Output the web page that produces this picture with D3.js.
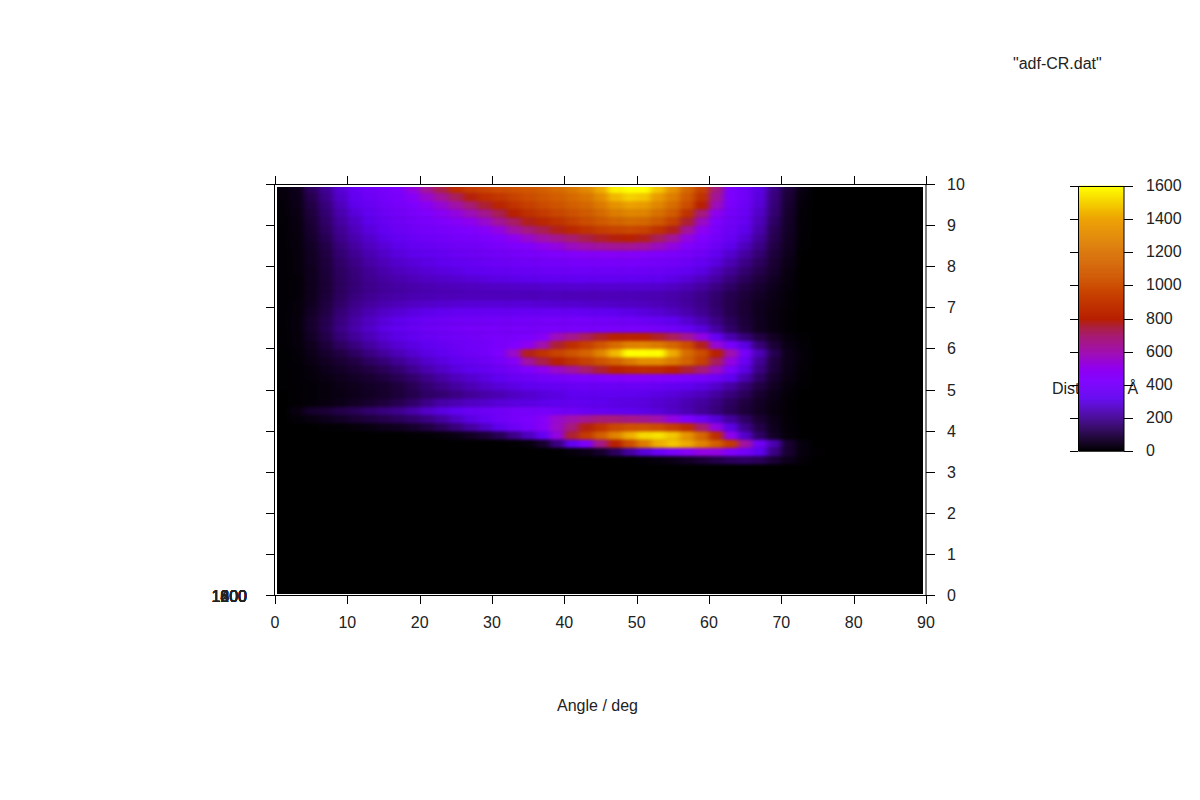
<!DOCTYPE html>
<html><head><meta charset="utf-8">
<style>html,body{margin:0;padding:0;background:#fff}svg{display:block}text{font-family:"Liberation Sans",Arial,sans-serif;font-size:16px;fill:#222}</style>
<script src="https://cdn.jsdelivr.net/npm/d3@7"></script></head><body>
<svg id="c" width="1200" height="800"></svg>
<script>
const angleCentres=[1,3,5,7,9,11,13,15,17,19,21,23,25,27,29,31,33,35,37,39,41,43,45,47,49,51,53,55,57,59,61,63,65,67,69,71,73,75];
const distCentres=[3.3,3.5,3.7,3.9,4.1,4.3,4.5,4.7,4.9,5.1,5.3,5.5,5.7,5.9,6.1,6.3,6.5,6.7,6.9,7.1,7.3,7.5,7.7,7.9,8.1,8.3,8.5,8.7,8.9,9.1,9.3,9.5,9.7,9.9];
const density=[
[0,0,0,0,0,0,0,0,0,0,0,0,0,0,0,0,0,0,0,0,0,0,0,0,0,10,20,35,60,85,110,135,145,130,85,40,12,0],
[0,0,0,0,0,0,0,0,0,0,0,0,0,0,0,0,0,0,0,0,15,35,70,135,220,290,355,410,460,520,520,440,390,320,185,75,20,5],
[0,0,0,0,0,0,0,0,0,0,0,0,0,0,0,0,5,15,70,180,330,420,660,800,1000,1250,1430,1480,1420,1280,1100,920,620,380,240,75,20,0],
[0,0,0,0,0,0,0,0,0,5,8,15,30,55,85,125,190,260,340,520,760,920,1100,1280,1430,1520,1540,1480,1350,1150,860,490,275,145,60,15,0,0],
[0,0,0,5,8,15,25,40,50,70,100,135,175,220,265,315,365,400,460,560,680,790,880,980,1030,1040,1000,930,850,700,520,305,195,110,45,12,0,0],
[0,12,25,42,60,80,98,115,135,155,185,220,265,305,340,375,400,415,460,550,600,640,680,680,660,640,600,520,430,365,290,215,145,80,38,10,0,0],
[0,25,68,85,110,128,153,175,195,230,270,300,325,350,365,380,395,400,400,390,375,355,345,330,320,310,295,270,245,210,175,130,90,55,25,8,0,0],
[0,7,12,25,38,55,72,93,120,150,190,230,245,265,275,290,300,305,315,320,330,325,320,310,305,300,285,270,245,220,185,140,100,60,30,8,0,0],
[0,7,12,20,30,42,55,68,90,115,145,160,185,210,230,245,265,280,295,305,325,325,325,325,320,315,305,295,275,255,220,175,130,75,38,12,0,0],
[4,7,12,20,34,46,60,72,93,125,160,190,220,245,270,290,305,320,330,340,350,355,355,355,355,355,350,335,325,305,275,225,165,105,55,20,4,0],
[4,8,16,30,46,60,76,98,125,155,190,225,255,280,300,325,350,365,385,400,415,420,430,440,450,450,445,435,420,405,375,325,240,145,72,30,8,0],
[4,8,20,42,60,80,105,130,160,200,240,270,300,320,340,365,395,430,490,560,620,700,760,800,830,850,840,800,760,690,570,415,305,185,95,38,10,0],
[4,10,30,55,80,105,140,170,205,240,275,300,325,345,365,400,450,620,740,800,880,950,1040,1130,1240,1320,1320,1240,1130,950,720,520,355,210,100,42,12,0],
[4,12,38,72,105,140,180,215,250,280,305,325,350,370,390,420,560,780,880,960,1040,1130,1280,1450,1640,1680,1600,1420,1180,1000,800,600,400,250,120,42,12,0],
[6,15,46,90,140,178,220,255,285,305,325,345,360,380,390,410,430,490,600,760,860,940,1050,1180,1270,1280,1240,1150,1000,780,540,400,300,170,85,32,10,0],
[6,16,60,110,170,212,250,285,310,330,350,365,380,385,395,405,410,420,460,580,650,720,770,800,810,800,770,720,640,520,340,240,170,105,55,20,5,0],
[8,18,68,123,187,234,272,306,332,348,365,378,391,400,404,404,404,404,408,408,408,408,408,408,408,408,400,382,348,298,225,150,98,50,25,8,0,0],
[8,18,68,119,178,225,263,293,315,336,353,365,374,378,382,387,387,391,395,395,395,391,387,382,374,361,344,319,285,242,187,132,89,50,25,8,0,0],
[8,16,60,106,166,208,242,268,285,302,315,327,336,340,344,344,344,348,348,348,340,336,327,319,310,298,285,264,238,204,162,115,80,46,25,8,0,0],
[8,15,50,98,149,191,217,238,251,264,272,280,285,289,289,289,289,289,285,280,280,276,272,268,264,259,251,238,217,191,153,115,80,50,30,12,0,0],
[6,13,46,89,140,178,204,221,230,242,246,251,251,255,255,255,255,251,255,255,251,251,251,251,251,246,242,234,217,191,157,119,89,60,34,12,0,0],
[6,13,46,85,136,170,196,212,225,234,242,251,255,259,264,268,272,272,276,280,280,280,280,280,280,280,276,264,246,221,183,145,106,76,42,17,0,0],
[6,13,46,85,136,170,200,221,238,251,264,272,280,289,298,306,310,315,319,323,327,327,327,327,327,323,319,306,289,259,221,174,132,93,55,21,0,0],
[6,15,46,89,140,174,208,234,255,272,285,298,306,319,327,336,344,348,357,361,365,365,365,365,365,361,357,344,327,302,255,208,157,115,68,25,0,0],
[6,15,51,93,149,187,225,251,276,293,306,319,332,340,353,361,370,378,387,391,395,400,404,404,404,400,391,382,365,340,298,242,187,136,80,34,0,0],
[6,17,55,102,162,204,242,272,298,315,327,340,353,365,374,387,395,408,416,430,440,450,455,460,455,445,430,416,400,374,332,280,221,162,93,42,0,0],
[8,19,60,110,174,221,259,289,315,336,348,361,374,382,395,408,425,440,490,520,570,600,625,640,640,620,570,520,440,408,365,315,255,187,106,50,4,0],
[8,21,68,123,191,238,276,310,336,353,370,382,395,404,416,440,490,550,610,650,700,740,770,790,800,780,720,635,520,430,391,349,289,212,119,55,6,0],
[8,24,76,136,204,255,298,332,357,374,391,404,416,430,460,520,610,680,730,780,830,880,930,960,980,960,880,780,635,490,408,365,315,238,128,60,8,0],
[10,25,85,149,221,272,315,349,374,391,408,430,460,490,550,635,710,780,830,880,940,1000,1070,1130,1170,1150,1070,950,760,570,430,382,340,255,145,64,10,0],
[12,30,93,162,238,293,332,365,387,408,430,470,520,580,650,730,800,870,920,970,1020,1080,1160,1250,1290,1280,1200,1080,880,680,490,391,357,272,162,68,10,0],
[12,34,106,174,255,315,349,378,400,421,470,540,610,690,760,820,880,940,990,1040,1100,1150,1240,1340,1400,1380,1290,1180,1000,800,580,408,365,289,170,76,12,0],
[17,38,119,191,272,332,365,391,408,460,550,635,720,790,860,900,950,1000,1050,1100,1160,1220,1320,1450,1500,1480,1380,1260,1080,880,635,420,374,298,178,85,17,0],
[17,42,136,204,289,349,382,400,420,520,640,740,850,920,960,1000,1030,1060,1100,1160,1230,1300,1420,1570,1640,1600,1480,1340,1150,950,680,420,374,306,187,93,25,0]
];
const xTicks=[0,10,20,30,40,50,60,70,80,90];
const yTicks=[0,1,2,3,4,5,6,7,8,9,10];
const cbTicks=[0,200,400,600,800,1000,1200,1400,1600];
const stackedZ=[0,200,400,600,800,1000,1200,1400,1600,1800];
const paletteValues=[0,100,200,320,430,500,600,700,750,800,1000,1200,1400,1600];
const paletteColours=["#000000","#200040","#400090","#6000f0","#8000ff","#9000f0","#a010b0","#a81c70","#ab2040","#b82000","#cc4c00","#d87000","#eca000","#ffff00"];
const titleText='"adf-CR.dat"', xLabel="Angle / deg", cbLabel="Distance / Å";

const svg=d3.select("#c");
const x=d3.scaleLinear().domain([0,90]).range([275,926]);
const y=d3.scaleLinear().domain([0,10]).range([595.5,184.5]);
const col=d3.scaleLinear().domain(paletteValues).range(paletteColours).clamp(true);
const defs=svg.append("defs");
defs.append("clipPath").attr("id","plot").append("rect").attr("x",277).attr("y",187).attr("width",646).attr("height",407);
const outside=defs.append("clipPath").attr("id","notbar");
outside.append("rect").attr("x",1000).attr("y",370).attr("width",78).attr("height",40);
outside.append("rect").attr("x",1125).attr("y",370).attr("width",60).attr("height",40);
const f=defs.append("filter").attr("id","soft").attr("filterUnits","userSpaceOnUse").attr("x",240).attr("y",150).attr("width",720).attr("height",480).attr("color-interpolation-filters","sRGB");
f.append("feGaussianBlur").attr("stdDeviation","3.2 1.8");
const clip=svg.append("g").attr("clip-path","url(#plot)");
const field=clip.append("g").attr("filter","url(#soft)");
field.append("rect").attr("x",x(-5)).attr("y",y(11)).attr("width",x(100)-x(-5)).attr("height",y(-1)-y(11)).attr("fill","#000");
const dx=1,dy=0.1,lastD=distCentres[distCentres.length-1];
distCentres.forEach((d,i)=>{
  field.append("g").selectAll("rect").data(density[i]).join("rect")
    .attr("x",(v,j)=>x(angleCentres[j]-(j===0?4:dx)))
    .attr("width",(v,j)=>x(angleCentres[j]+dx)-x(angleCentres[j]-(j===0?4:dx))+0.3)
    .attr("y",y(d===lastD?d+1:d+dy))
    .attr("height",y(d-dy)-y(d===lastD?d+1:d+dy)+0.3)
    .attr("fill",v=>col(v));
});
const L="#000";
svg.append("rect").attr("x",274.5).attr("y",184.5).attr("width",651.5).attr("height",411).attr("fill","none").attr("stroke",L);
function tick(x1,y1,x2,y2){svg.append("line").attr("x1",x1).attr("y1",y1).attr("x2",x2).attr("y2",y2).attr("stroke",L).attr("shape-rendering","crispEdges");}
xTicks.forEach(t=>{const p=Math.round(x(t));tick(p,595,p,604);tick(p,176,p,184);
  svg.append("text").attr("x",x(t)).attr("y",628).attr("text-anchor","middle").text(t);});
yTicks.forEach(t=>{const p=Math.floor(y(t));tick(266,p,275,p);tick(926,p,935,p);
  svg.append("text").attr("x",947).attr("y",p+5.5).text(t);});
stackedZ.forEach(v=>svg.append("text").attr("x",247).attr("y",601.5).attr("text-anchor","end").text(v));
svg.append("text").attr("x",597.5).attr("y",710.5).attr("text-anchor","middle").text(xLabel);
svg.append("text").attr("x",1013).attr("y",68.5).text(titleText);
svg.append("text").attr("x",1052).attr("y",394).attr("clip-path","url(#notbar)").text(cbLabel);
const cb=d3.scaleLinear().domain([0,1600]).range([451,186]);
svg.append("g").selectAll("rect").data(d3.range(0,1600,6)).join("rect")
  .attr("x",1079).attr("width",45).attr("y",v=>cb(v+6)).attr("height",v=>cb(v)-cb(v+6)+0.5).attr("fill",v=>col(v+3));
svg.append("rect").attr("x",1078.5).attr("y",186.5).attr("width",45.5).attr("height",264.5).attr("fill","none").attr("stroke",L);
cbTicks.forEach(t=>{const p=Math.round(cb(t));tick(1070,p,1078,p);tick(1124,p,1133,p);
  svg.append("text").attr("x",1146).attr("y",p+4.5).text(t);});
</script></body></html>
